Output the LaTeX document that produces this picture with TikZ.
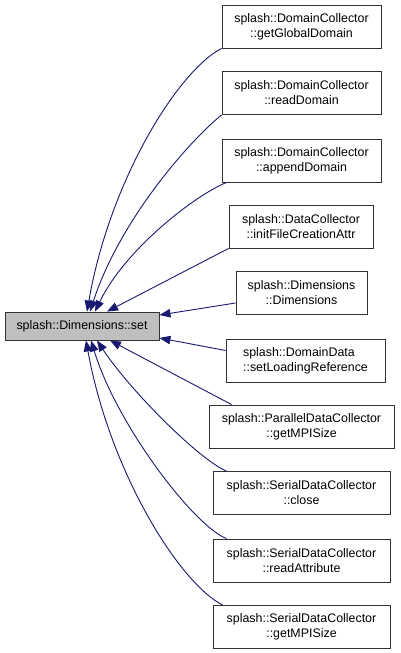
\documentclass[tikz,border=0pt]{standalone}
\usepackage{fontspec}
\setmainfont{Liberation Sans}
\usetikzlibrary{arrows.meta}
\definecolor{edgeblue}{RGB}{25,25,112}
\definecolor{curfill}{RGB}{191,191,191}
\tikzset{
  fnbox/.style={draw=black!80, line width=0.9pt, fill=white, inner sep=0pt,
    minimum height=43, align=center, font=\fontsize{12.4}{15}\selectfont},
  callarrow/.style={draw=edgeblue, line width=0.9pt,
    -{Triangle[length=11pt,width=8.5pt]}}
}
\begin{document}
\begin{tikzpicture}[x=1pt,y=-1pt]
  \useasboundingbox (0,0) rectangle (400,653);

  \node[fnbox, fill=curfill, minimum width=154, minimum height=28] (main) at (82,326)
    {splash::Dimensions::set};

  \foreach \i/\x/\y/\w/\txt in {
    1/301.5/26.5/159/{splash::DomainCollector\\::getGlobalDomain},
    2/301.5/93/159/{splash::DomainCollector\\::readDomain},
    3/301.5/160.5/159/{splash::DomainCollector\\::appendDomain},
    4/301/226.5/144/{splash::DataCollector\\::initFileCreationAttr},
    5/301.5/293/131/{splash::Dimensions\\::Dimensions},
    7/301.5/426.5/185/{splash::ParallelDataCollector\\::getMPISize},
    8/301.5/493/177/{splash::SerialDataCollector\\::close},
    9/301.5/560.5/177/{splash::SerialDataCollector\\::readAttribute},
    10/301.5/627/177/{splash::SerialDataCollector\\::getMPISize}}
  \node[fnbox, minimum width=\w] (n\i) at (\x,\y) {\txt};
  \node[fnbox, minimum width=159, align=left] (n6) at (305.5,360.5)
    {splash::DomainData\\::setLoadingReference};

  % callers above
  \draw[callarrow] (n1.south west) .. controls +(-43,22) and +(23,-132) .. ([xshift=5]main.north);
  \draw[callarrow] (n2.south west) .. controls +(-32,26) and +(30,-92) .. ([xshift=8]main.north);
  \draw[callarrow] ([xshift=5]n3.south west) .. controls +(-32,13) and +(30,-62) .. ([xshift=13]main.north);
  \draw[callarrow] (n4.south west) -- ([xshift=25]main.north);
  % callers at the side
  \draw[callarrow] ([yshift=-10]n5.west) -- ([yshift=11]main.east);
  \draw[callarrow] ([yshift=10]n6.west) -- ([yshift=-12]main.east);
  % callers below
  \draw[callarrow] ([xshift=23]n7.north west) -- ([xshift=28]main.south);
  \draw[callarrow] ([xshift=14]n8.north west) .. controls +(-27,-11) and +(33,50) .. ([xshift=15]main.south);
  \draw[callarrow] ([xshift=14]n9.north west) .. controls +(-32,-12) and +(26,85) .. ([xshift=9]main.south);
  \draw[callarrow] ([xshift=10]n10.north west) .. controls +(-43,-22) and +(24,132) .. ([xshift=4]main.south);
\end{tikzpicture}
\end{document}
